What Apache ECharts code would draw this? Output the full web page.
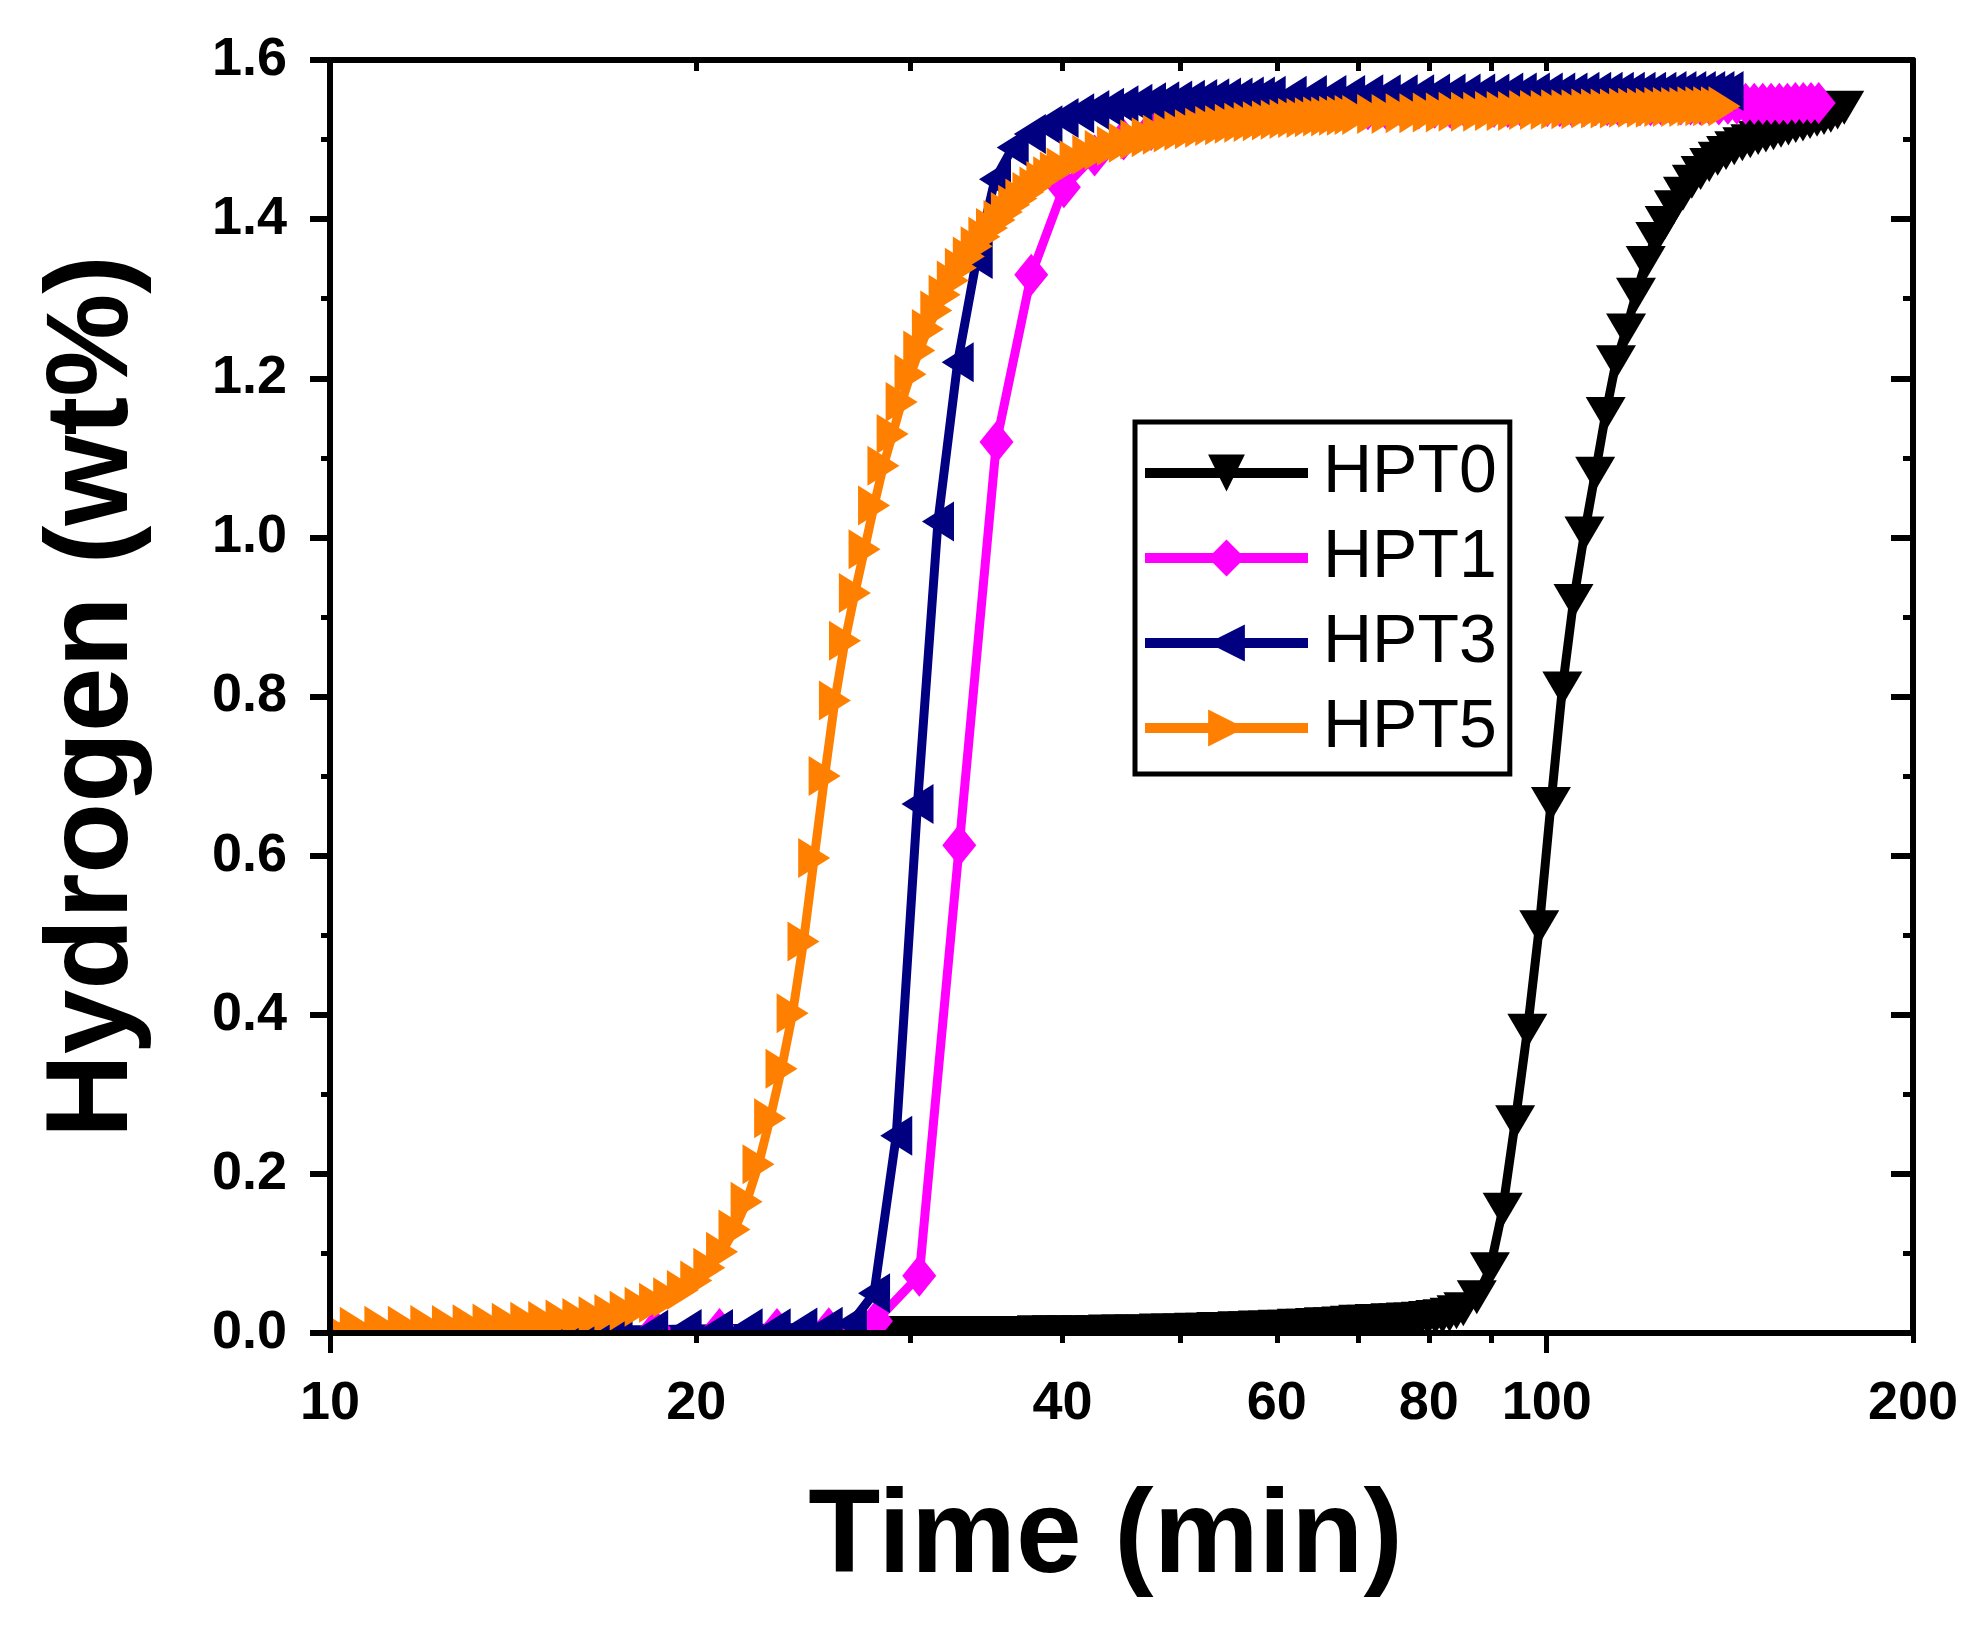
<!DOCTYPE html>
<html>
<head>
<meta charset="utf-8">
<title>Hydrogen vs time</title>
<script src="https://cdn.jsdelivr.net/npm/echarts@6.0.0/dist/echarts.min.js"></script>
<style>
html, body { margin: 0; padding: 0; background: #fff; }
#main { width: 1980px; height: 1627px; }
</style>
</head>
<body>
<div id="main"></div>
<script type="text/javascript">
// ---- data (time in min, hydrogen in wt%) ----
var seriesNames = ['HPT0', 'HPT1', 'HPT3', 'HPT5'];

var hpt0Time = [28.2, 29.3, 30.4, 31.5, 32.6, 33.7, 34.8, 35.9, 37.0, 38.1,
    39.2, 40.3, 41.4, 42.5, 43.6, 44.7, 45.8, 46.9, 48.0, 49.1,
    50.2, 51.3, 52.4, 53.5, 54.6, 55.7, 56.8, 57.9, 59.0, 60.1,
    61.2, 62.3, 63.4, 64.5, 65.6, 66.7, 67.8, 68.9, 70.0, 71.1,
    72.2, 73.3, 74.4, 75.5, 76.6, 77.7, 78.8, 79.9, 81.0, 82.1,
    83.2, 84.3, 85.4, 87.6, 89.8, 92.0,
    94.2, 96.4, 98.6, 100.8, 103.0, 105.2, 107.4, 109.6, 111.8, 114.0,
    116.2, 118.4, 120.6, 122.8, 125.0, 127.2, 129.4, 131.6, 133.8, 136.0,
    138.2, 140.4, 142.6, 144.8, 147.0, 149.2, 151.4, 153.6, 155.8, 158.0,
    160.2, 162.4, 164.6, 166.8, 169.0, 171.2, 173.4, 175.6];
var hpt0Val = [0.000, 0.000, 0.000, 0.000, 0.000, 0.000, 0.000, 0.000, 0.000, 0.001,
    0.001, 0.001, 0.001, 0.001, 0.002, 0.002, 0.002, 0.002, 0.003, 0.003,
    0.003, 0.004, 0.004, 0.005, 0.005, 0.006, 0.006, 0.007, 0.007, 0.008,
    0.008, 0.009, 0.009, 0.010, 0.011, 0.011, 0.012, 0.013, 0.014, 0.014,
    0.015, 0.015, 0.016, 0.016, 0.017, 0.017, 0.018, 0.019, 0.020, 0.021,
    0.023, 0.026, 0.030, 0.045, 0.080, 0.155,
    0.265, 0.380, 0.510, 0.665, 0.810, 0.920, 1.005, 1.080, 1.155, 1.220,
    1.260, 1.305, 1.345, 1.375, 1.395, 1.415, 1.432, 1.447, 1.458, 1.468,
    1.476, 1.483, 1.489, 1.494, 1.498, 1.502, 1.505, 1.508, 1.511, 1.514,
    1.517, 1.519, 1.522, 1.525, 1.527, 1.530, 1.534, 1.540];

var hpt1Time = [18.5, 20.9, 23.3, 25.7, 28.1, 30.5, 32.9, 35.3, 37.7, 40.1,
    42.5, 44.9, 47.3, 49.7, 52.1, 54.5, 56.9, 59.3, 61.7, 64.1,
    66.5, 68.9, 71.3, 73.7, 76.1, 78.5, 80.9, 83.3, 85.7, 88.1,
    90.5, 92.9, 95.3, 97.7, 100.1, 102.5, 104.9, 107.3, 109.7, 112.1,
    114.5, 116.9, 119.3, 121.7, 124.1, 126.5, 128.9, 131.3, 133.7, 136.1,
    138.5, 140.9, 143.3, 145.7, 148.1, 150.5, 152.9, 155.3, 157.7, 160.1,
    162.5, 164.9, 167.3];
var hpt1Val = [0.004, 0.005, 0.005, 0.006, 0.015, 0.072, 0.613, 1.120, 1.330, 1.440,
    1.480, 1.500, 1.512, 1.520, 1.525, 1.528, 1.531, 1.533, 1.535, 1.536,
    1.537, 1.538, 1.538, 1.539, 1.539, 1.539, 1.540, 1.540, 1.540, 1.541,
    1.541, 1.541, 1.541, 1.542, 1.542, 1.542, 1.542, 1.542, 1.543, 1.543,
    1.543, 1.543, 1.543, 1.543, 1.544, 1.544, 1.544, 1.544, 1.544, 1.544,
    1.544, 1.545, 1.545, 1.545, 1.545, 1.545, 1.545, 1.545, 1.545, 1.546,
    1.546, 1.546, 1.546];

var hpt3Time = [14.8, 16.0, 17.2, 18.4, 19.6, 20.8, 22.0, 23.2, 24.4, 25.6,
    26.8, 28.0, 29.2, 30.4, 31.6, 32.8, 34.0, 35.2, 36.4, 37.6,
    38.8, 40.0, 41.2, 42.4, 43.6, 44.8, 46.0, 47.2, 48.4, 49.6,
    50.8, 52.0, 53.2, 54.4, 55.6, 56.8, 58.0, 59.2, 61.6, 64.0,
    66.4, 68.8, 71.2, 73.6, 76.0, 78.4, 80.8, 83.2, 85.6, 88.0,
    90.4, 92.8, 95.2, 97.6, 100.0, 102.4, 104.8, 107.2, 109.6, 112.0,
    114.4, 116.8, 119.2, 121.6, 124.0, 126.4, 128.8, 131.2, 133.6, 136.0,
    138.4, 140.8];
var hpt3Val = [0.003, 0.003, 0.004, 0.004, 0.005, 0.005, 0.006, 0.006, 0.007, 0.008,
    0.012, 0.050, 0.248, 0.665, 1.020, 1.220, 1.350, 1.450, 1.490, 1.507,
    1.518, 1.527, 1.533, 1.537, 1.540, 1.543, 1.545, 1.547, 1.548, 1.549,
    1.550, 1.551, 1.552, 1.553, 1.553, 1.554, 1.554, 1.555, 1.555, 1.556,
    1.556, 1.556, 1.557, 1.557, 1.557, 1.557, 1.558, 1.558, 1.558, 1.558,
    1.558, 1.559, 1.559, 1.559, 1.559, 1.559, 1.559, 1.560, 1.560, 1.560,
    1.560, 1.560, 1.560, 1.560, 1.560, 1.561, 1.561, 1.561, 1.561, 1.561,
    1.561, 1.561];

var hpt5Time = [10.0, 10.5, 11.0, 11.5, 12.0, 12.5, 13.0, 13.5, 14.0, 14.5,
    15.0, 15.5, 16.0, 16.5, 17.0, 17.5, 18.0, 18.5, 19.0, 19.5,
    20.0, 20.5, 21.0, 21.5, 22.0, 22.5, 23.0, 23.5, 24.0, 24.5,
    25.0, 25.5, 26.0, 26.5, 27.0, 27.5, 28.0, 28.5, 29.0, 29.5,
    30.0, 30.5, 31.0, 31.5, 32.0, 32.5, 33.0, 33.5, 34.0, 34.5,
    35.0, 35.5, 36.0, 36.5, 37.0, 37.5, 38.0, 38.5, 39.0, 39.5,
    40, 41, 42, 43, 44, 45, 46, 47, 48, 49,
    50, 51, 52, 53, 54, 55, 56, 57, 58, 59,
    60, 61, 62, 63, 64, 65, 66, 67, 68, 69,
    70, 72, 74, 76, 78, 80, 82, 84, 86, 88,
    90, 92, 94, 96, 98, 100, 102, 104, 106, 108,
    110, 112, 114, 116, 118, 120, 122, 124, 126, 128,
    130, 132, 134, 136, 138, 140];
var hpt5Val = [0.008, 0.008, 0.009, 0.009, 0.010, 0.010, 0.011, 0.012, 0.013, 0.014,
    0.015, 0.017, 0.019, 0.021, 0.024, 0.028, 0.033, 0.038, 0.045, 0.054,
    0.066, 0.082, 0.102, 0.130, 0.165, 0.212, 0.270, 0.332, 0.402, 0.492,
    0.597, 0.700, 0.795, 0.870, 0.930, 0.985, 1.040, 1.090, 1.130, 1.170,
    1.205, 1.235, 1.262, 1.285, 1.305, 1.323, 1.339, 1.353, 1.366, 1.378,
    1.389, 1.399, 1.409, 1.418, 1.426, 1.434, 1.441, 1.448, 1.454, 1.460,
    1.465, 1.474, 1.481, 1.487, 1.492, 1.496, 1.500, 1.503, 1.506, 1.509,
    1.511, 1.513, 1.515, 1.517, 1.518, 1.520, 1.521, 1.522, 1.523, 1.524,
    1.525, 1.526, 1.527, 1.527, 1.528, 1.529, 1.529, 1.530, 1.530, 1.531,
    1.531, 1.532, 1.532, 1.533, 1.533, 1.534, 1.534, 1.535, 1.535, 1.535,
    1.536, 1.536, 1.536, 1.537, 1.537, 1.537, 1.538, 1.538, 1.538, 1.539,
    1.539, 1.539, 1.539, 1.540, 1.540, 1.540, 1.540, 1.541, 1.541, 1.541,
    1.541, 1.542, 1.542, 1.542, 1.542, 1.542];

// axis ticks / labels
var xLabelValues = [10, 20, 40, 60, 80, 100, 200];
var xMinorTickValues = [20, 30, 40, 50, 60, 70, 80, 90, 200];
var xMajorTickValues = [10, 100];
var xTopTickValues = [20, 30, 40, 50, 60, 70, 80, 90, 100];

// ---- chart ----
var FONT = 'Arial, "Liberation Sans", sans-serif';
var myChart = echarts.init(document.getElementById('main'));

function pairs(t, v) {
    return t.map(function (x, i) { return [x, v[i]]; });
}

function logAxis(extra) {
    var base = {
        type: 'log', logBase: 10, min: 10, max: 200, gridIndex: 0, z: 10,
        splitLine: { show: false },
        axisLine: { show: false, onZero: false },
        axisLabel: { show: false },
        axisPointer: { show: false }
    };
    return Object.assign(base, extra);
}

var option = {
    animation: false,
    backgroundColor: '#fff',
    grid: { left: 330, right: 67, top: 60, bottom: 294, containLabel: false },
    // white masks so markers are cut at the frame, as in the original plot
    graphic: [
        { type: 'rect', z: 5, silent: true, shape: { x: 0, y: 1333, width: 1980, height: 294 }, style: { fill: '#fff' } },
        { type: 'rect', z: 5, silent: true, shape: { x: 0, y: 0, width: 330, height: 1627 }, style: { fill: '#fff' } }
    ],
    legend: {
        orient: 'vertical',
        left: 1135, top: 422, z: 12,
        itemWidth: 163, itemHeight: 46, itemGap: 17,
        padding: [17, 13, 12, 5],
        borderColor: '#000', borderWidth: 5, backgroundColor: '#fff',
        lineStyle: { width: 10 },
        textStyle: { fontFamily: FONT, fontSize: 68, color: '#000', lineHeight: 66, padding: [0, 0, 0, 10] },
        data: seriesNames
    },
    xAxis: [
        logAxis({
            position: 'bottom',
            name: 'Time (min)', nameLocation: 'middle', nameGap: 147,
            nameTextStyle: { fontFamily: FONT, fontWeight: 'bold', fontSize: 118, color: '#000', padding: [0, 32, 0, 0] },
            axisLine: { show: true, onZero: false, lineStyle: { color: '#000', width: 6 } },
            axisTick: { show: true, customValues: xMinorTickValues, length: 10, lineStyle: { color: '#000', width: 5 } },
            axisLabel: {
                show: true, customValues: xLabelValues, margin: 44,
                fontFamily: FONT, fontWeight: 'bold', fontSize: 54, color: '#000',
                formatter: function (v) { return String(Math.round(v)); }
            }
        }),
        logAxis({
            position: 'bottom',
            axisTick: { show: true, customValues: xMajorTickValues, length: 20, lineStyle: { color: '#000', width: 5 } }
        }),
        logAxis({
            position: 'top',
            axisLine: { show: true, onZero: false, lineStyle: { color: '#000', width: 6 } },
            axisTick: { show: true, inside: true, customValues: xTopTickValues, length: 11, lineStyle: { color: '#000', width: 5 } }
        })
    ],
    yAxis: [
        {
            type: 'value', min: 0, max: 1.6, interval: 0.2, position: 'left', z: 10,
            name: 'Hydrogen (wt%)', nameLocation: 'middle', nameGap: 177,
            nameTextStyle: { fontFamily: FONT, fontWeight: 'bold', fontSize: 116, color: '#000' },
            axisLine: { show: true, onZero: false, lineStyle: { color: '#000', width: 6 } },
            axisTick: { show: true, length: 20, lineStyle: { color: '#000', width: 6 } },
            minorTick: { show: true, splitNumber: 2, length: 9, lineStyle: { color: '#000', width: 5 } },
            axisLabel: {
                margin: 43, fontFamily: FONT, fontWeight: 'bold', fontSize: 54, color: '#000',
                formatter: function (v) { return v.toFixed(1); }
            },
            splitLine: { show: false }
        },
        {
            type: 'value', min: 0, max: 1.6, interval: 0.2, position: 'right', z: 10,
            axisLine: { show: true, onZero: false, lineStyle: { color: '#000', width: 6 } },
            axisTick: { show: true, inside: true, length: 22, lineStyle: { color: '#000', width: 6 } },
            minorTick: { show: true, splitNumber: 2, length: 10, lineStyle: { color: '#000', width: 5 } },
            axisLabel: { show: false },
            splitLine: { show: false }
        }
    ],
    series: [
        {
            name: 'HPT0', type: 'line', data: pairs(hpt0Time, hpt0Val),
            symbol: 'path://M0,0 L10,0 L5,9 Z', symbolSize: [40, 34],
            itemStyle: { color: '#000000' }, lineStyle: { color: '#000000', width: 9 },
            emphasis: { disabled: true }
        },
        {
            name: 'HPT1', type: 'line', data: pairs(hpt1Time, hpt1Val),
            symbol: 'diamond', symbolSize: [34, 42],
            itemStyle: { color: '#FF00FF' }, lineStyle: { color: '#FF00FF', width: 9 },
            emphasis: { disabled: true }
        },
        {
            name: 'HPT3', type: 'line', data: pairs(hpt3Time, hpt3Val),
            symbol: 'path://M0,5 L9,0 L9,10 Z', symbolSize: [32, 40],
            itemStyle: { color: '#000080' }, lineStyle: { color: '#000080', width: 9 },
            emphasis: { disabled: true }
        },
        {
            name: 'HPT5', type: 'line', data: pairs(hpt5Time, hpt5Val),
            symbol: 'path://M9,5 L0,0 L0,10 Z', symbolSize: [32, 40],
            itemStyle: { color: '#FF8000' }, lineStyle: { color: '#FF8000', width: 9 },
            emphasis: { disabled: true }
        }
    ]
};

myChart.setOption(option);
</script>
</body>
</html>
